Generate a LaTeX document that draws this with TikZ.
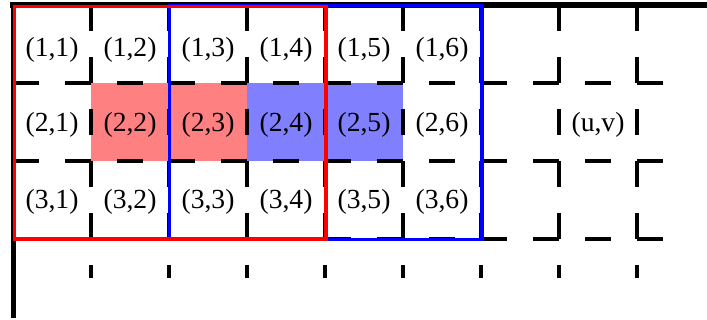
\documentclass[tikz,border=0pt]{standalone}
\usepackage{fontspec}
\setmainfont{Liberation Serif}
\begin{document}
\begin{tikzpicture}[x=0.5pt,y=-0.5pt,
  gridline/.style={line width=1.6pt, dash pattern=on 13pt off 13pt, black},
  axis/.style={line width=2.6pt, black},
  redbox/.style={draw=red, line width=1.8pt},
  bluebox/.style={draw=blue, line width=1.8pt},
  lbl/.style={font=\fontsize{13.8}{16}\selectfont, inner sep=0pt}]
\useasboundingbox (0,0) rectangle (707,320);
% highlighted cells
\fill[red!50] (91,83) rectangle (247,161);
\fill[blue!50] (247,83) rectangle (403,161);
% dashed grid
\foreach \i in {1,...,8} \draw[gridline] ({13+78*\i},5) -- ({13+78*\i},278);
\foreach \j in {1,2,3} \draw[gridline] (13,{5+78*\j}) -- (676,{5+78*\j});
% axes
\draw[axis] (10,5) -- (707,5);
\draw[axis] (13.5,3) -- (13.5,318);
% windows
\draw[bluebox] (169.5,5.5) rectangle (482,239.5);
\draw[redbox] (14.5,6.5) rectangle (326,239);
% labels
\foreach \r/\y in {1/50,2/125,3/202}
  \foreach \c in {1,...,6}
    \node[lbl] (c\r\c) at ({52+78*(\c-1)},\y) {(\r,\c)};
\node[lbl] (cuv) at (598,125) {(u,v)};
\end{tikzpicture}
\end{document}
